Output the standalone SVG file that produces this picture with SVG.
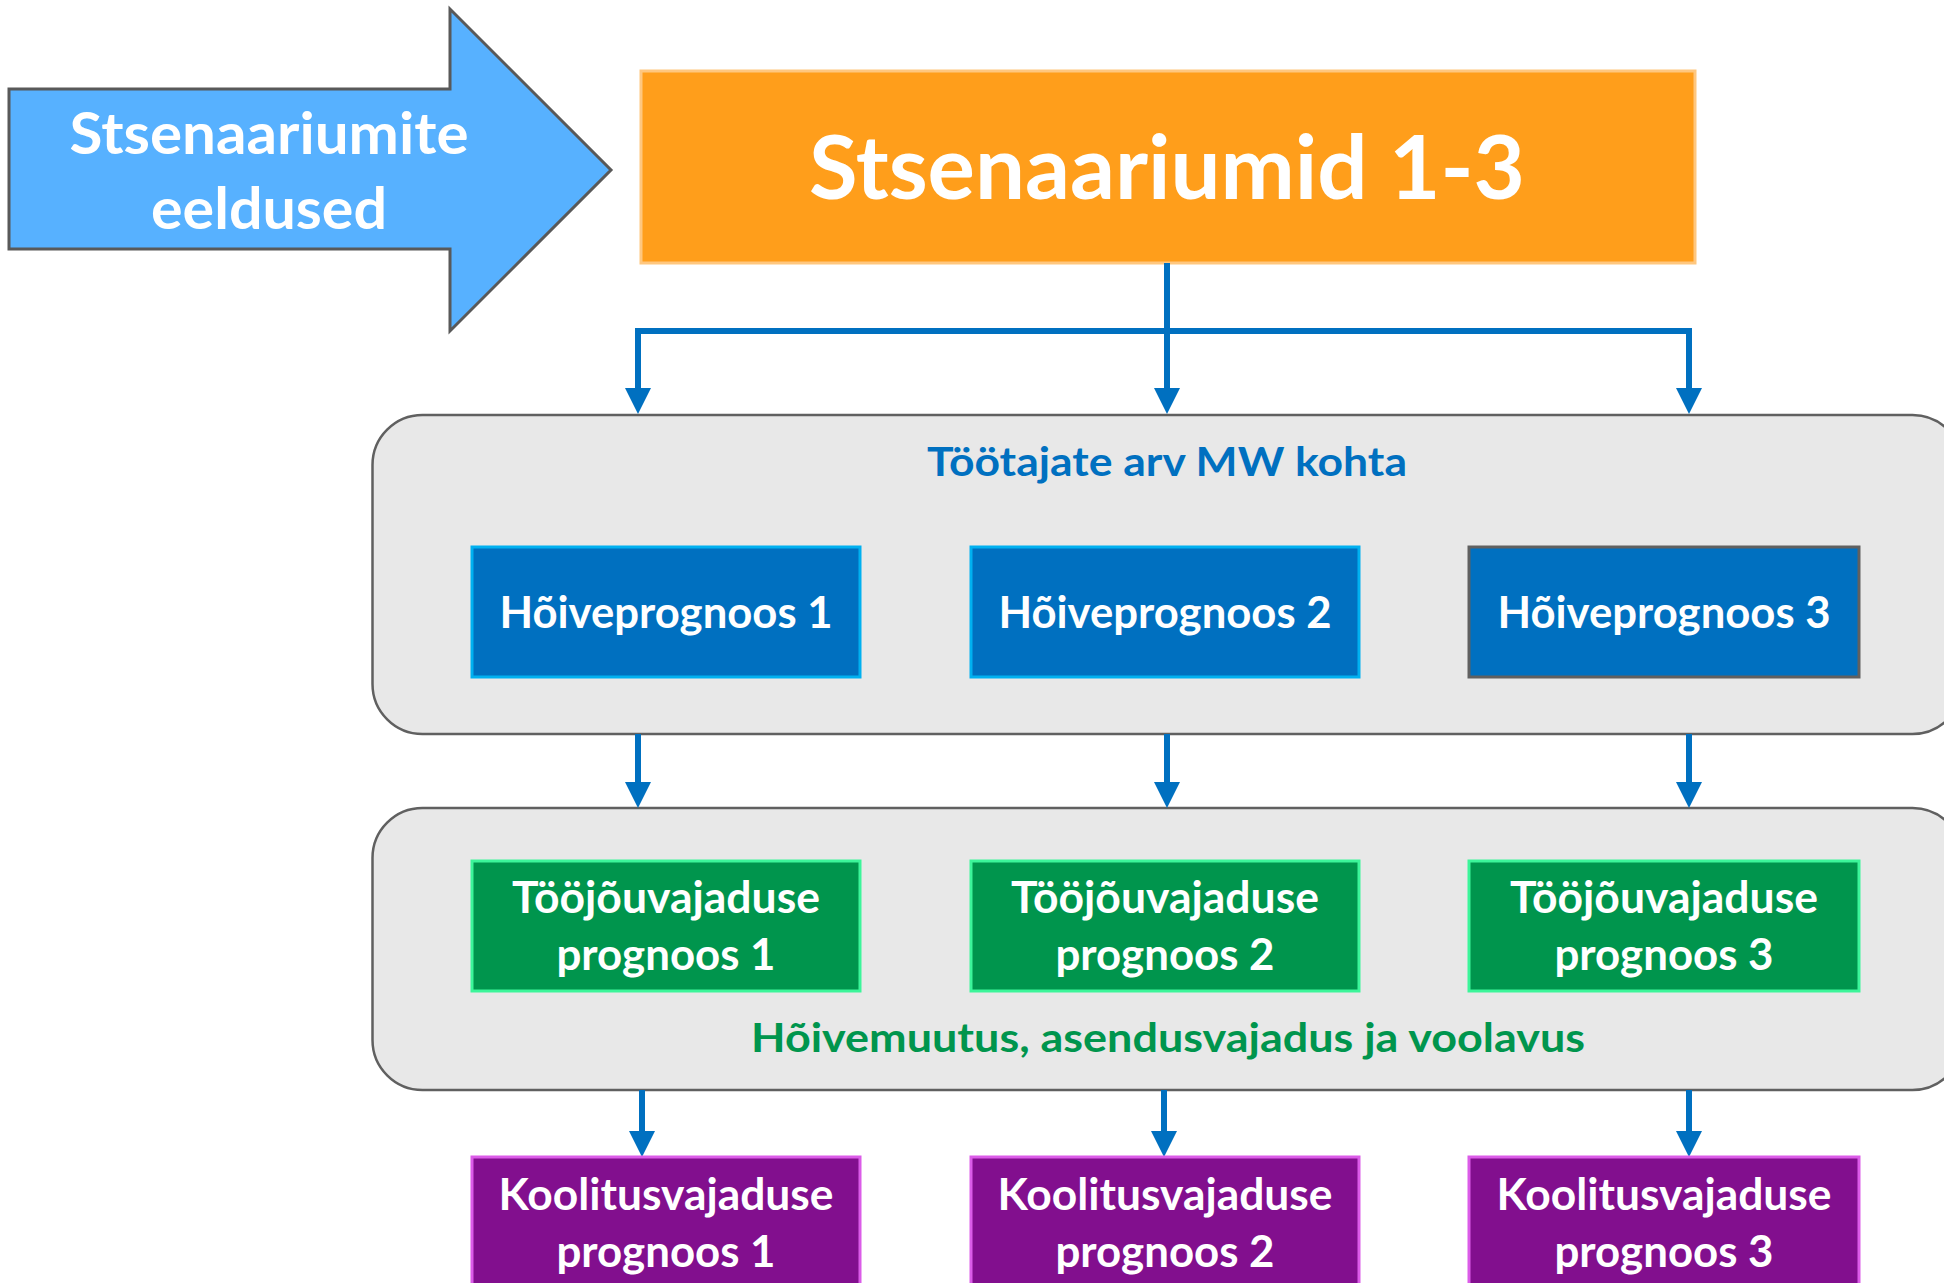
<svg xmlns="http://www.w3.org/2000/svg" width="1944" height="1283" viewBox="0 0 1944 1283">
<defs>
<style>
text{font-family:"Lato","Liberation Sans",sans-serif;font-weight:bold;text-anchor:middle}
.w{fill:#ffffff}
.grp{fill:#E8E8E8;stroke:#606060;stroke-width:2.5}
.blue{fill:#0070C0;stroke:#00B0F0;stroke-width:3}
.green{fill:#00954D;stroke:#3CF59A;stroke-width:3}
.purple{fill:#820F8E;stroke:#DB5CE8;stroke-width:3}
.conn{fill:none;stroke:#0070C0;stroke-width:6;marker-end:url(#ah)}
</style>
<marker id="ah" markerUnits="userSpaceOnUse" markerWidth="26" markerHeight="26" viewBox="0 0 26 26" refX="0" refY="13" orient="auto">
<path d="M0,0 L26,13 L0,26 z" fill="#0070C0"/>
</marker>
</defs>
<rect width="1944" height="1283" fill="#ffffff"/>

<g id="group1">
<rect class="grp" x="372.5" y="415" width="1590" height="319" rx="50"/>
<text x="1167" y="476" font-size="41" fill="#0070C0" textLength="480" lengthAdjust="spacingAndGlyphs">Töötajate arv MW kohta</text>
</g>
<g id="group2">
<rect class="grp" x="372.5" y="808" width="1590" height="282" rx="50"/>
<text x="1168" y="1052" font-size="41" fill="#00954D" textLength="834" lengthAdjust="spacingAndGlyphs">Hõivemuutus, asendusvajadus ja voolavus</text>
</g>

<g id="assumptions">
<path d="M9,89 H450 V9 L611,170 L450,331 V249 H9 Z" fill="#57B1FF" stroke="#595959" stroke-width="3"/>
<text class="w" x="269" y="154" font-size="57" textLength="399" lengthAdjust="spacingAndGlyphs">Stsenaariumite</text>
<text class="w" x="269" y="229" font-size="57" textLength="236" lengthAdjust="spacingAndGlyphs">eeldused</text>
</g>

<g id="scenarios">
<rect x="641" y="71" width="1054" height="192" fill="#FF9E1B" stroke="#FFC77F" stroke-width="3"/>
<text class="w" x="1167" y="199" font-size="88" textLength="716" lengthAdjust="spacingAndGlyphs">Stsenaariumid 1-3</text>
</g>

<g id="connectors">
<path class="conn" d="M1167,263 V388"/>
<path class="conn" d="M1167,331 H638 V388" stroke-width="7"/>
<path class="conn" d="M1167,331 H1689 V388" stroke-width="7"/>
<path class="conn" d="M638,734 V782"/>
<path class="conn" d="M1167,734 V782"/>
<path class="conn" d="M1689,734 V782"/>
<path class="conn" d="M642,1090 V1131"/>
<path class="conn" d="M1164,1090 V1131"/>
<path class="conn" d="M1689,1090 V1131"/>
</g>

<g id="hoive1">
<rect class="blue" x="472" y="547" width="388" height="130"/>
<text class="w" x="666" y="628" font-size="43" textLength="333" lengthAdjust="spacingAndGlyphs">Hõiveprognoos 1</text>
</g>
<g id="hoive2">
<rect class="blue" x="971" y="547" width="388" height="130"/>
<text class="w" x="1165" y="628" font-size="43" textLength="333" lengthAdjust="spacingAndGlyphs">Hõiveprognoos 2</text>
</g>
<g id="hoive3">
<rect x="1469" y="547" width="390" height="130" fill="#0070C0" stroke="#606060" stroke-width="3"/>
<text class="w" x="1664" y="628" font-size="43" textLength="333" lengthAdjust="spacingAndGlyphs">Hõiveprognoos 3</text>
</g>

<g id="toojoud1">
<rect class="green" x="472" y="861" width="388" height="130"/>
<text class="w" x="666" y="913" font-size="43" textLength="308" lengthAdjust="spacingAndGlyphs">Tööjõuvajaduse</text>
<text class="w" x="666" y="970" font-size="43" textLength="219" lengthAdjust="spacingAndGlyphs">prognoos 1</text>
</g>
<g id="toojoud2">
<rect class="green" x="971" y="861" width="388" height="130"/>
<text class="w" x="1165" y="913" font-size="43" textLength="308" lengthAdjust="spacingAndGlyphs">Tööjõuvajaduse</text>
<text class="w" x="1165" y="970" font-size="43" textLength="219" lengthAdjust="spacingAndGlyphs">prognoos 2</text>
</g>
<g id="toojoud3">
<rect class="green" x="1469" y="861" width="390" height="130"/>
<text class="w" x="1664" y="913" font-size="43" textLength="308" lengthAdjust="spacingAndGlyphs">Tööjõuvajaduse</text>
<text class="w" x="1664" y="970" font-size="43" textLength="219" lengthAdjust="spacingAndGlyphs">prognoos 3</text>
</g>

<g id="koolitus1">
<rect class="purple" x="472" y="1157" width="388" height="140"/>
<text class="w" x="666" y="1210" font-size="43" textLength="335" lengthAdjust="spacingAndGlyphs">Koolitusvajaduse</text>
<text class="w" x="666" y="1267" font-size="43" textLength="219" lengthAdjust="spacingAndGlyphs">prognoos 1</text>
</g>
<g id="koolitus2">
<rect class="purple" x="971" y="1157" width="388" height="140"/>
<text class="w" x="1165" y="1210" font-size="43" textLength="335" lengthAdjust="spacingAndGlyphs">Koolitusvajaduse</text>
<text class="w" x="1165" y="1267" font-size="43" textLength="219" lengthAdjust="spacingAndGlyphs">prognoos 2</text>
</g>
<g id="koolitus3">
<rect class="purple" x="1469" y="1157" width="390" height="140"/>
<text class="w" x="1664" y="1210" font-size="43" textLength="335" lengthAdjust="spacingAndGlyphs">Koolitusvajaduse</text>
<text class="w" x="1664" y="1267" font-size="43" textLength="219" lengthAdjust="spacingAndGlyphs">prognoos 3</text>
</g>
</svg>
